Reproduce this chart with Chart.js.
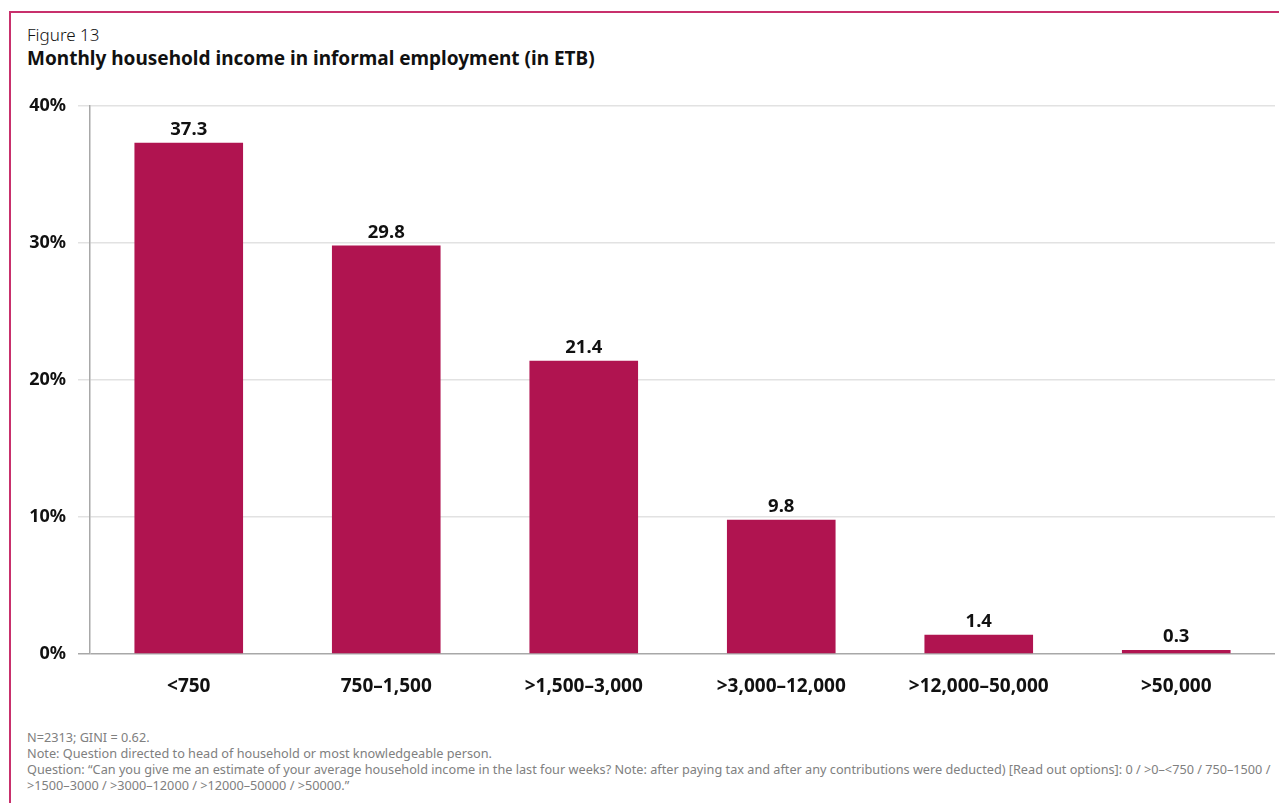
<!DOCTYPE html>
<html>
<head>
<meta charset="utf-8">
<script src="https://cdn.jsdelivr.net/npm/chart.js@4.4.1/dist/chart.umd.min.js"></script>
<style>
  html, body { margin: 0; padding: 0; background: #fff; }
  body { width: 1279px; height: 803px; position: relative; overflow: hidden; font-family: "Noto Sans", "Open Sans", sans-serif; color: #111; }
  .frame { position: absolute; left: 9px; top: 11px; right: 0; bottom: 0; border-left: 2px solid #c8306c; border-top: 2px solid #c8306c; }
  .fig-label { position: absolute; left: 27px; top: 23px; font-size: 17px; font-weight: 300; }
  .fig-title { position: absolute; left: 27px; top: 45px; font-size: 19px; font-weight: 700; }
  .chart-box { position: absolute; left: 0; top: 83px; width: 1279px; height: 621px; }
  .notes { position: absolute; left: 27px; top: 729px; font-size: 12.7px; line-height: 16px; color: #808080; width: 1250px; white-space: nowrap; }
</style>
</head>
<body>
<div class="frame"></div>
<div class="fig-label">Figure 13</div>
<div class="fig-title">Monthly household income in informal employment (in ETB)</div>
<div class="chart-box"><canvas id="incomeChart"></canvas></div>
<div class="notes">
  N=2313; GINI = 0.62.<br>
  Note: Question directed to head of household or most knowledgeable person.<br>
  Question: “Can you give me an estimate of your average household income in the last four weeks? Note: after paying tax and after any contributions were deducted) [Read out options]: 0 / &gt;0–&lt;750 / 750–1500 /<br>
  &gt;1500–3000 / &gt;3000–12000 / &gt;12000–50000 / &gt;50000.”
</div>
<script>
const categories = ["<750", "750–1,500", ">1,500–3,000", ">3,000–12,000", ">12,000–50,000", ">50,000"];
const shares = [37.3, 29.8, 21.4, 9.8, 1.4, 0.3];
const yTicks = [0, 10, 20, 30, 40];

const barColor = "#b01450";

// draws the value above each bar
const valueLabels = {
  id: "valueLabels",
  afterDatasetsDraw(chart) {
    const { ctx } = chart;
    const meta = chart.getDatasetMeta(0);
    ctx.save();
    ctx.font = "bold 18.5px 'Noto Sans', sans-serif";
    ctx.fillStyle = "#111";
    ctx.textAlign = "center";
    ctx.textBaseline = "bottom";
    meta.data.forEach((bar, i) => {
      ctx.fillText(shares[i].toFixed(1), bar.x, bar.y - 4);
    });
    ctx.restore();
  },
};

new Chart(document.getElementById("incomeChart"), {
  type: "bar",
  data: {
    labels: categories,
    datasets: [
      {
        data: shares,
        backgroundColor: barColor,
        categoryPercentage: 1,
        barPercentage: 0.55,
      },
    ],
  },
  options: {
    responsive: true,
    maintainAspectRatio: false,
    animation: false,
    layout: { padding: { top: 9, right: 4, left: 0, bottom: 0 } },
    plugins: { legend: { display: false }, tooltip: { enabled: false } },
    scales: {
      x: {
        grid: { display: false },
        border: { display: false },
        ticks: {
          color: "#111",
          padding: 13,
          font: { family: "'Noto Sans', sans-serif", size: 19, weight: "bold" },
        },
        afterFit(scale) { scale.height = 50; },
      },
      y: {
        min: 0,
        max: 40,
        afterBuildTicks(scale) { scale.ticks = yTicks.map((v) => ({ value: v })); },
        grid: {
          color: (c) => (c.tick && c.tick.value === 0 ? "#a8a8a8" : "#e2e2e2"),
          lineWidth: 1.5,
          tickLength: 12,
        },
        border: { color: "#a8a8a8", width: 1.5 },
        ticks: {
          color: "#111",
          padding: 12,
          font: { family: "'Noto Sans', sans-serif", size: 18, weight: "bold" },
          callback: (v) => v + "%",
        },
        afterFit(scale) { scale.width = 90; },
      },
    },
  },
  plugins: [valueLabels],
});
</script>
</body>
</html>
